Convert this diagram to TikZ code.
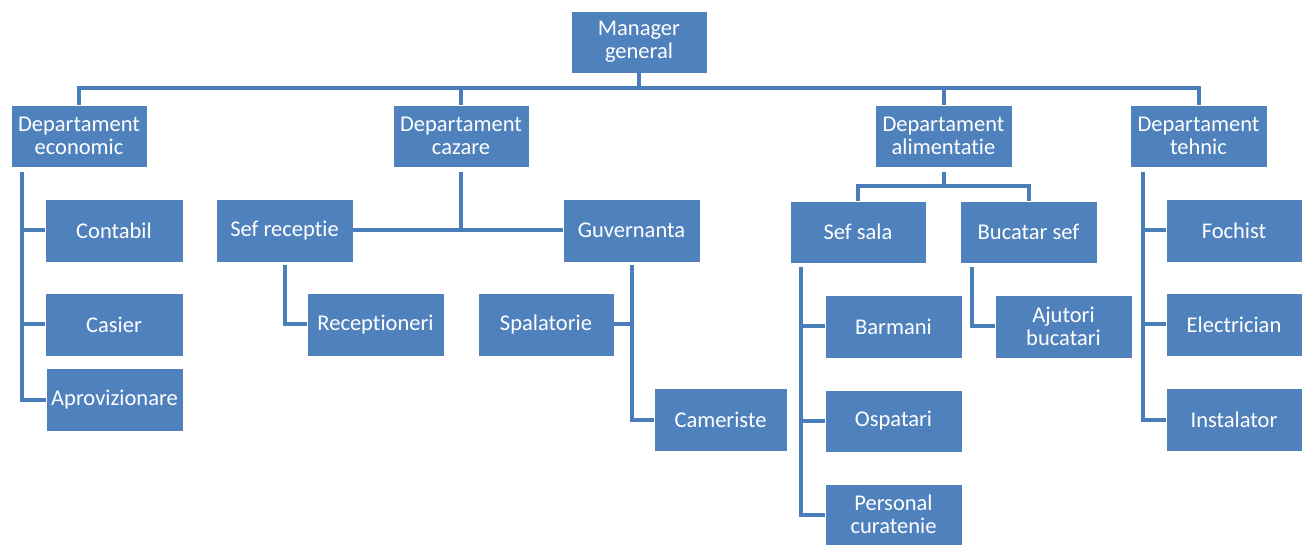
\documentclass[tikz,border=0pt]{standalone}
\usepackage{fontspec}
\setmainfont{Carlito}[Ligatures={NoCommon}]
\definecolor{boxblue}{RGB}{79,129,189}
\definecolor{lineblue}{RGB}{74,126,187}
\tikzset{
  box/.style={fill=boxblue, draw=white, line width=0.8pt, text=white, align=center,
    inner sep=0pt, font=\fontsize{22.5}{23}\selectfont,
    minimum width=137pt, minimum height=63pt},
  conn/.style={draw=lineblue, line width=4pt}
}
\begin{document}
\begin{tikzpicture}[x=1pt,y=1pt]
\useasboundingbox (0,0) rectangle (1307,-545);
\coordinate (mgc) at (639,-42);
\coordinate (dec) at (79,-136);
\coordinate (dcc) at (461,-136);
\coordinate (dac) at (943.5,-136);
\coordinate (dtc) at (1198.5,-136);
% nodes
\node[box, minimum width=136pt, minimum height=62pt] (mg) at (mgc) {Manager\\general};
\node[box, minimum width=136pt, minimum height=62pt] (de) at (dec) {Departament\\economic};
\node[box, minimum width=136pt, minimum height=62pt] (dc) at (dcc) {Departament\\cazare};
\node[box, minimum width=137pt, minimum height=62pt] (da) at (dac) {Departament\\alimentatie};
\node[box, minimum width=137pt, minimum height=62pt] (dt) at (dtc) {Departament\\tehnic};

\node[box, minimum width=138pt] (contabil) at (114,-230.5) {Contabil};
\node[box, minimum width=138pt] (casier) at (114,-324.5) {Casier};
\node[box, minimum width=137pt] (aprov) at (114.5,-399.5) {Aprovizionare};

\node[box] (sefrec) at (284.5,-230.5) {Sef receptie};
\node[box] (guv) at (631.5,-230.5) {Guvernanta};
\node[box] (recep) at (375.5,-324.5) {Receptioneri};
\node[box, minimum width=136pt] (spal) at (546,-324.5) {Spalatorie};
\node[box, minimum width=133pt] (cam) at (720.5,-419.5) {Cameriste};

\node[box, minimum width=136pt, minimum height=62pt] (sefsala) at (858,-232) {Sef sala};
\node[box, minimum height=62pt] (bucsef) at (1028.5,-232) {Bucatar sef};
\node[box] (barmani) at (893.5,-326.5) {Barmani};
\node[box, minimum height=62pt] (ospatari) at (893.5,-421) {Ospatari};
\node[box, minimum height=61pt] (personal) at (893.5,-514.5) {Personal\\curatenie};
\node[box] (ajutori) at (1063.5,-326.5) {Ajutori\\bucatari};

\node[box, minimum width=136pt] (fochist) at (1234,-230.5) {Fochist};
\node[box, minimum width=136pt] (electrician) at (1234,-324.5) {Electrician};
\node[box, minimum width=136pt] (instalator) at (1234,-419.5) {Instalator};

% top level
\draw[conn] (mg.south) -- ++(0,-15);
\draw[conn] (de.north) -- ++(0,17) -| (dt.north);
\draw[conn] (dc.north) -- ++(0,17);
\draw[conn] (da.north) -- ++(0,17);

% economic
\draw[conn] ([xshift=11pt,yshift=-5pt]de.south west) |- (aprov.west);
\draw[conn] (contabil.west) -- ++(-23,0);
\draw[conn] (casier.west) -- ++(-23,0);

% cazare
\draw[conn] (sefrec.east) -- (guv.west);
\draw[conn] ([yshift=-5pt]dc.south) -- (dc.south |- sefrec.east);
\draw[conn] ([yshift=-3pt]sefrec.south) |- (recep.west);
\draw[conn] ([yshift=-3pt]guv.south) |- (cam.west);
\draw[conn] (spal.east) -- (spal.east -| guv.south);

% alimentatie
\draw[conn] ([yshift=-5pt]da.south) -- ++(0,-14);
\draw[conn] (sefsala.north) -- ++(0,15) -| (bucsef.north);
\draw[conn] ([xshift=11pt,yshift=-4pt]sefsala.south west) |- (personal.west);
\draw[conn] (barmani.west) -- ++(-24,0);
\draw[conn] (ospatari.west) -- ++(-24,0);
\draw[conn] ([xshift=12pt,yshift=-4pt]bucsef.south west) |- (ajutori.west);

% tehnic
\draw[conn] ([xshift=13pt,yshift=-5pt]dt.south west) |- (instalator.west);
\draw[conn] (fochist.west) -- ++(-23,0);
\draw[conn] (electrician.west) -- ++(-23,0);
\end{tikzpicture}
\end{document}
